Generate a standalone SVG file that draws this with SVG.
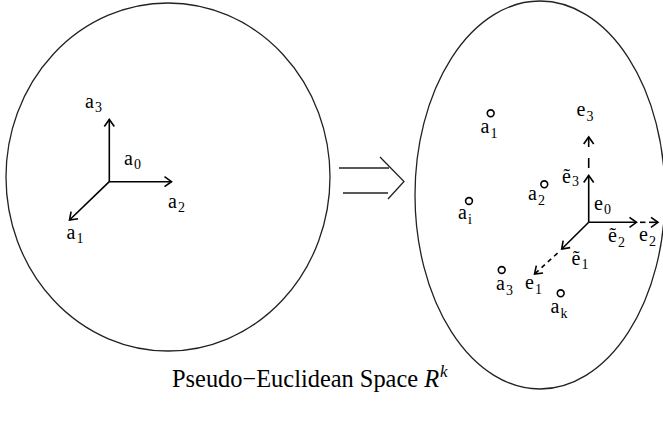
<svg xmlns="http://www.w3.org/2000/svg" width="663" height="429" viewBox="0 0 663 429">
<defs>
<style>
.sh{fill:none;stroke:#222;stroke-width:1.3}
.ax{fill:none;stroke:#000;stroke-width:1.6}
.pt{fill:#fff;stroke:#000;stroke-width:1.6}
text{font-family:"Liberation Serif","Times New Roman","DejaVu Serif",serif;fill:#000}
.l{font-size:20px}
.s{font-size:14px}
.t{font-size:24.4px}
.ts{font-size:17px}
</style>
<marker id="ah" markerUnits="userSpaceOnUse" markerWidth="20" markerHeight="20" viewBox="-10 -10 20 20" refX="0" refY="0" orient="auto">
<path d="M-7,-5 L0,0 L-7,5" fill="none" stroke="#000" stroke-width="1.6"/>
</marker>
</defs>
<g id="left-space">
<ellipse class="sh" cx="168" cy="177" rx="162" ry="174"/>
</g>
<g id="right-space">
<ellipse class="sh" cx="540" cy="195" rx="125" ry="194"/>
</g>
<g id="connectors">
<g id="left-axes">
<line class="ax" x1="109.3" y1="181.7" x2="109.3" y2="119.5" marker-end="url(#ah)"/>
<line class="ax" x1="109.3" y1="181.7" x2="171.5" y2="181.7" marker-end="url(#ah)"/>
<line class="ax" x1="109.3" y1="181.7" x2="69.5" y2="220" marker-end="url(#ah)"/>
</g>
<g id="implies">
<line class="sh" x1="339" y1="168" x2="389" y2="168"/>
<line class="sh" x1="343" y1="193" x2="388" y2="193"/>
<path class="sh" d="M380,157 L404,181.5 L388,199"/>
</g>
<g id="right-axes">
<line class="ax" x1="588.7" y1="222.3" x2="588.7" y2="175.5" marker-end="url(#ah)"/>
<line class="ax" x1="588.7" y1="168" x2="588.7" y2="158"/>
<line class="ax" x1="588.7" y1="147" x2="588.7" y2="137" marker-end="url(#ah)"/>
<line class="ax" x1="588.7" y1="222.3" x2="636.5" y2="222.3" marker-end="url(#ah)"/>
<line class="ax" x1="640" y1="222.3" x2="645.5" y2="222.3"/>
<line class="ax" x1="649" y1="222.3" x2="658" y2="222.3" marker-end="url(#ah)"/>
<line class="ax" x1="588.7" y1="222.3" x2="561.7" y2="249" marker-end="url(#ah)"/>
<line class="ax" x1="557.5" y1="253.2" x2="534.5" y2="274" stroke-dasharray="4.5,4" marker-end="url(#ah)"/>
</g>
</g>
<g id="left-labels">
<text class="l" x="85" y="108">a<tspan class="s" dx="1" dy="4">3</tspan></text>
<text class="l" x="124" y="165">a<tspan class="s" dx="1" dy="4">0</tspan></text>
<text class="l" x="168" y="208">a<tspan class="s" dx="1" dy="4">2</tspan></text>
<text class="l" x="66.5" y="238.5">a<tspan class="s" dx="1" dy="4.5">1</tspan></text>
</g>
<g id="points">
<circle class="pt" cx="490.7" cy="113.3" r="3.4"/>
<circle class="pt" cx="544.3" cy="184.3" r="3.4"/>
<circle class="pt" cx="469" cy="201" r="3.4"/>
<circle class="pt" cx="501.7" cy="270" r="3.4"/>
<circle class="pt" cx="560.7" cy="293.3" r="3.4"/>
</g>
<g id="right-labels">
<text class="l" x="480.5" y="132.5">a<tspan class="s" dx="1" dy="5">1</tspan></text>
<text class="l" x="528" y="200">a<tspan class="s" dx="1" dy="5">2</tspan></text>
<text class="l" x="458" y="218.5">a<tspan class="s" dx="1" dy="5">i</tspan></text>
<text class="l" x="496" y="289.5">a<tspan class="s" dx="1" dy="5">3</tspan></text>
<text class="l" x="550.5" y="312.5">a<tspan class="s" dx="1" dy="5">k</tspan></text>
<text class="l" x="576.5" y="116">e<tspan class="s" dx="1" dy="5">3</tspan></text>
<text class="l" x="562" y="182.5">ẽ<tspan class="s" dx="1" dy="3">3</tspan></text>
<text class="l" x="594" y="210">e<tspan class="s" dx="1" dy="4">0</tspan></text>
<text class="l" x="608" y="242">ẽ<tspan class="s" dx="1" dy="5">2</tspan></text>
<text class="l" x="639" y="240.5">e<tspan class="s" dx="1" dy="5">2</tspan></text>
<text class="l" x="571.5" y="264.5">ẽ<tspan class="s" dx="1" dy="4">1</tspan></text>
<text class="l" x="525" y="288.5">e<tspan class="s" dx="1" dy="5">1</tspan></text>
</g>
<g id="title">
<text class="t" x="172" y="387">Pseudo−Euclidean Space <tspan font-style="italic">R</tspan><tspan font-style="italic" class="ts" dx="1" dy="-10">k</tspan></text>
</g>
</svg>
